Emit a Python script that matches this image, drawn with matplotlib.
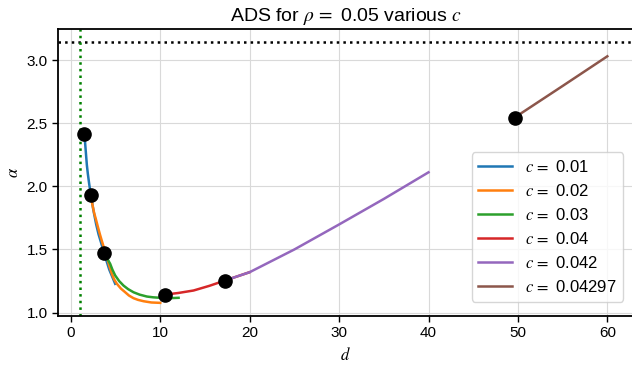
# plot.py
# ADS curves alpha(d) for rho = 0.05 at several c values.
import numpy as np
import matplotlib
matplotlib.use("Agg")
import matplotlib.pyplot as plt

plt.rcParams["font.family"] = ["Liberation Sans", "DejaVu Sans"]
plt.rcParams["mathtext.fontset"] = "stix"

# --- Data ---
c_labels = ["0.01", "0.02", "0.03", "0.04", "0.042", "0.04297"]
colors = ["#1f77b4", "#ff7f0e", "#2ca02c", "#d62728", "#9467bd", "#8c564b"]

d_c1 = [1.52, 1.60, 1.70, 1.79, 1.90, 2.05, 2.24, 2.50, 2.83, 3.10, 3.40, 3.76, 4.30, 4.96]
a_c1 = [2.42, 2.34, 2.25, 2.17, 2.10, 2.02, 1.93, 1.82, 1.70, 1.62, 1.55, 1.46, 1.34, 1.228]

d_c2 = [2.24, 2.40, 2.60, 2.80, 3.02, 3.25, 3.50, 3.76, 4.03, 4.30, 4.59, 4.85, 5.15,
        5.60, 6.08, 6.50, 7.01, 7.50, 8.13, 9.00, 10.0]
a_c2 = [1.93, 1.86, 1.79, 1.74, 1.68, 1.62, 1.56, 1.50, 1.44, 1.37, 1.307, 1.262, 1.228,
        1.19, 1.161, 1.135, 1.114, 1.101, 1.090, 1.080, 1.077]

d_c3 = [3.76, 4.05, 4.40, 4.65, 4.96, 5.40, 5.89, 6.40, 7.01, 7.70, 8.51, 9.20, 10.0, 11.0, 12.05]
a_c3 = [1.474, 1.43, 1.386, 1.34, 1.294, 1.25, 1.214, 1.186, 1.161, 1.142, 1.127, 1.121,
        1.117, 1.114, 1.117]

d_c4 = [10.56, 12.0, 13.73, 15.5, 17.24, 20.0]
a_c4 = [1.143, 1.155, 1.175, 1.212, 1.254, 1.32]

d_c5 = [17.24, 20.0, 25.0, 30.0, 35.0, 40.0]
a_c5 = [1.254, 1.32, 1.50, 1.698, 1.90, 2.111]

d_c6 = [49.64, 55.0, 60.0]
a_c6 = [2.545, 2.795, 3.03]

# starting points of each curve (black dots)
start_d = [1.52, 2.24, 3.76, 10.56, 17.24, 49.64]
start_a = [2.418, 1.929, 1.474, 1.143, 1.254, 2.545]

pi_line = np.pi
d_vline = 1.0

curves = [(d_c1, a_c1), (d_c2, a_c2), (d_c3, a_c3),
          (d_c4, a_c4), (d_c5, a_c5), (d_c6, a_c6)]

fig = plt.figure(figsize=(6.32, 3.69), dpi=100)
ax = fig.add_axes([0.092, 0.144, 0.91, 0.777])

for (d, a), lab, col in zip(curves, c_labels, colors):
    ax.plot(d, a, color=col, lw=1.8, label=rf"$c\,=$ {lab}")

ax.plot(start_d, start_a, "o", color="black", ms=9.5, zorder=5)
ax.axhline(pi_line, color="black", ls=":", lw=1.8)
ax.axvline(d_vline, color="green", ls=":", lw=1.8)

ax.set_xlim(-1.42, 62.9)
ax.set_ylim(0.974, 3.245)
ax.set_xticks([0, 10, 20, 30, 40, 50, 60])
ax.set_yticks([1.0, 1.5, 2.0, 2.5, 3.0])
ax.grid(True, color="#d9d9d9", lw=0.8)
ax.set_axisbelow(True)

for s in ["left", "bottom", "top"]:
    ax.spines[s].set_linewidth(1.3)
ax.spines["right"].set_visible(False)
ax.tick_params(labelsize=11, width=1.0, length=4)

ax.set_xlabel(r"$d$", fontsize=12)
ax.set_ylabel(r"$\alpha$", fontsize=12)
ax.set_title(r"ADS for $\rho\,=$ 0.05 various $c$", fontsize=14)

ax.legend(loc="lower right", fontsize=12, handlelength=2.0,
          bbox_to_anchor=(0.997, 0.02), labelspacing=0.48)

fig.savefig("out.png", dpi=100)
